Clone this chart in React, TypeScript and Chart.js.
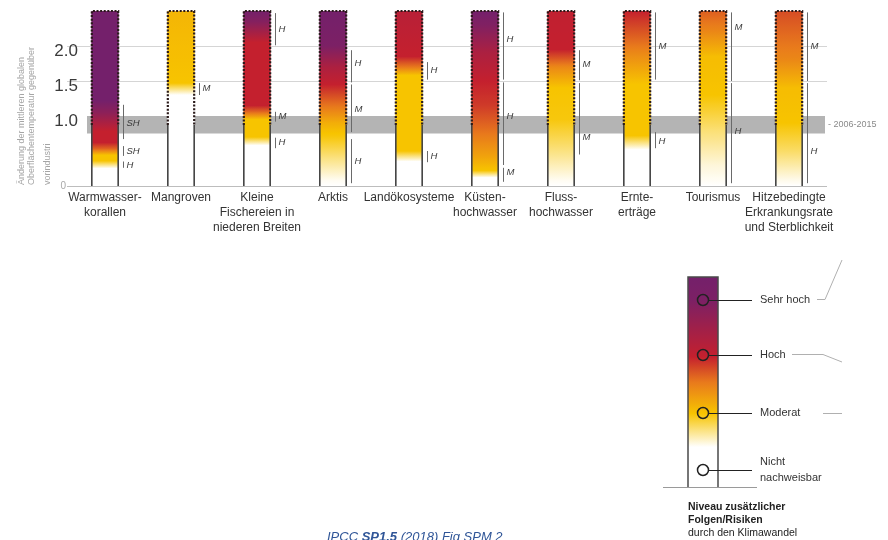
import React, { useEffect, useRef } from 'react';
import { Chart, registerables } from 'chart.js';

Chart.register(...registerables);

// ---------- data ----------
const categories: string[][] = [
  ['Warmwasser-', 'korallen'],
  ['Mangroven'],
  ['Kleine', 'Fischereien in', 'niederen Breiten'],
  ['Arktis'],
  ['Landökosysteme'],
  ['Küsten-', 'hochwasser'],
  ['Fluss-', 'hochwasser'],
  ['Ernte-', 'erträge'],
  ['Tourismus'],
  ['Hitzebedingte', 'Erkrankungsrate', 'und Sterblichkeit'],
];

// upper end of every bar (°C of warming)
const barTop = [2.5, 2.5, 2.5, 2.5, 2.5, 2.5, 2.5, 2.5, 2.5, 2.5];

const yTicks = [0, 1.0, 1.5, 2.0];
const yTickLabels = ['0', '1.0', '1.5', '2.0'];
const yTitleLines = ['Änderung der mittleren globalen', 'Oberflächentemperatur gegenüber', 'vorindustri'];

// observed warming band 2006-2015
const observedBand = [0.75, 1.0];
const observedMean = 0.87;
const bandLabel = '- 2006-2015';

// risk level: 0 = nicht nachweisbar, 1 = moderat, 1.5 = orange, 2 = hoch, 3 = sehr hoch
const riskPalette: [number, string][] = [
  [0, '#FFFFFF'],
  [1, '#F7C400'],
  [1.5, '#E8791C'],
  [2, '#C4202E'],
  [3, '#74206B'],
];

// [temperature °C, risk level] per category
const riskProfiles: [number, number][][] = [
  [[0, 0], [0.25, 0], [0.36, 1], [0.44, 1], [0.53, 1.6], [0.62, 2], [0.78, 2], [1.05, 2.7], [1.22, 3], [2.5, 3]],
  [[0, 0], [1.3, 0], [1.47, 1], [2.5, 1.1]],
  [[0, 0], [0.58, 0], [0.7, 1], [0.95, 1], [1.06, 1.6], [1.15, 2], [2.05, 2], [2.35, 2.8], [2.5, 3]],
  [[0, 0], [0.08, 0.05], [0.4, 0.5], [0.7, 0.95], [0.9, 1.15], [1.2, 1.6], [1.45, 2], [1.7, 2.3], [2.0, 2.9], [2.5, 3]],
  [[0, 0], [0.35, 0], [0.5, 1], [1.58, 1], [1.7, 1.5], [1.85, 2], [2.5, 2.15]],
  [[0, 0], [0.12, 0], [0.22, 1], [0.4, 1.2], [0.8, 1.55], [1.15, 1.85], [1.5, 2], [1.9, 2.3], [2.3, 2.85], [2.5, 3]],
  [[0, 0], [0.08, 0.05], [0.5, 0.5], [0.95, 0.95], [1.4, 1], [1.7, 1.4], [1.95, 2], [2.5, 2.05]],
  [[0, 0], [0.52, 0], [0.72, 1], [1.45, 1], [1.9, 1.4], [2.3, 1.8], [2.5, 2]],
  [[0, 0], [0.3, 0.15], [0.8, 0.55], [1.3, 1], [1.85, 1.05], [2.2, 1.4], [2.5, 1.65]],
  [[0, 0], [0.1, 0.1], [0.5, 0.6], [0.9, 1], [1.4, 1.05], [1.8, 1.4], [2.2, 1.6], [2.5, 1.75]],
];

// confidence brackets: [category index, from °C, to °C, label position °C, label]
const confidenceBrackets: [number, number, number, number, string][] = [
  [0, 1.16, 0.67, 0.89, 'SH'], [0, 0.57, 0.43, 0.5, 'SH'], [0, 0.35, 0.26, 0.3, 'H'],
  [1, 1.47, 1.3, 1.39, 'M'],
  [2, 2.47, 2.01, 2.24, 'H'], [2, 1.06, 0.92, 0.99, 'M'], [2, 0.69, 0.54, 0.62, 'H'],
  [3, 1.94, 1.48, 1.75, 'H'], [3, 1.45, 0.77, 1.09, 'M'], [3, 0.67, 0.04, 0.35, 'H'],
  [4, 1.77, 1.52, 1.65, 'H'], [4, 0.5, 0.34, 0.42, 'H'],
  [5, 2.48, 1.52, 2.1, 'H'], [5, 1.48, 0.3, 1.0, 'H'], [5, 0.26, 0.06, 0.2, 'M'],
  [6, 1.94, 1.51, 1.74, 'M'], [6, 1.47, 0.45, 0.7, 'M'],
  [7, 2.48, 1.52, 2.0, 'M'], [7, 0.77, 0.54, 0.64, 'H'],
  [8, 2.48, 1.5, 2.26, 'M'], [8, 1.47, 0.04, 0.78, 'H'],
  [9, 2.48, 1.5, 1.99, 'M'], [9, 1.47, 0.04, 0.49, 'H'],
];

// legend
const legendLevels: string[][] = [['Sehr hoch'], ['Hoch'], ['Moderat'], ['Nicht', 'nachweisbar']];
const legendTitle = ['Niveau zusätzlicher', 'Folgen/Risiken', 'durch den Klimawandel'];
const captionParts = ['IPCC ', 'SP1.5', ' (2018) Fig SPM 2'];

// ---------- helpers ----------
function hexToRgb(h: string) {
  const n = parseInt(h.slice(1), 16);
  return [(n >> 16) & 255, (n >> 8) & 255, n & 255];
}
function riskColor(r: number) {
  const p = riskPalette;
  if (r <= p[0][0]) return p[0][1];
  if (r >= p[p.length - 1][0]) return p[p.length - 1][1];
  for (let i = 0; i < p.length - 1; i++) {
    const [a, ca] = p[i];
    const [b, cb] = p[i + 1];
    if (r >= a && r <= b) {
      const t = (r - a) / (b - a);
      const A = hexToRgb(ca), B = hexToRgb(cb);
      const c = A.map((v, k) => Math.round(v + (B[k] - v) * t));
      return `rgb(${c[0]},${c[1]},${c[2]})`;
    }
  }
  return p[0][1];
}
function addProfileStops(g: CanvasGradient, profile: [number, number][], maxT: number) {
  for (let i = 0; i < profile.length - 1; i++) {
    const [t0, r0] = profile[i];
    const [t1, r1] = profile[i + 1];
    const steps = 8;
    for (let s = 0; s <= steps; s++) {
      const f = s / steps;
      const t = t0 + (t1 - t0) * f;
      const r = r0 + (r1 - r0) * f;
      g.addColorStop(Math.min(1, Math.max(0, t / maxT)), riskColor(r));
    }
  }
}

const FONT = "'Liberation Sans', Arial, sans-serif";

const decorPlugin = {
  id: 'decor',
  beforeDatasetsDraw(chart: any) {
    const { ctx, chartArea, scales } = chart;
    const y = scales.y;
    ctx.save();
    ctx.fillStyle = '#B4B4B4';
    const yA = y.getPixelForValue(observedBand[1]);
    const yB = y.getPixelForValue(observedBand[0]);
    ctx.fillRect(chartArea.left + 20, yA, chartArea.right - 2 - (chartArea.left + 20), yB - yA);
    ctx.restore();
  },
  afterDatasetsDraw(chart: any) {
    const { ctx, scales } = chart;
    const y = scales.y;
    const meta = chart.getDatasetMeta(0);
    ctx.save();
    meta.data.forEach((bar: any, i: number) => {
      const l = bar.x - bar.width / 2 + 0.5;
      const r = bar.x + bar.width / 2 - 0.5;
      const yTop = y.getPixelForValue(barTop[i]);
      const yObs = y.getPixelForValue(observedMean);
      const y0 = y.getPixelForValue(0);
      // dotted projection outline
      ctx.setLineDash([2, 1.6]);
      ctx.lineWidth = 2.2;
      ctx.strokeStyle = '#2a1a1a';
      ctx.beginPath();
      ctx.moveTo(l, yObs);
      ctx.lineTo(l, yTop);
      ctx.lineTo(r, yTop);
      ctx.lineTo(r, yObs);
      ctx.stroke();
      // solid observed outline
      ctx.setLineDash([]);
      ctx.lineWidth = 1.6;
      ctx.strokeStyle = '#444';
      ctx.beginPath();
      ctx.moveTo(l, yObs);
      ctx.lineTo(l, y0);
      ctx.moveTo(r, yObs);
      ctx.lineTo(r, y0);
      ctx.stroke();
    });
    // confidence brackets
    ctx.setLineDash([]);
    confidenceBrackets.forEach(([ci, from, to, at, label]) => {
      const bar = meta.data[ci];
      const lx = Math.round(bar.x + bar.width / 2 + 4) + 0.5;
      ctx.strokeStyle = '#6a6a6a';
      ctx.lineWidth = 1;
      ctx.beginPath();
      ctx.moveTo(lx, y.getPixelForValue(from));
      ctx.lineTo(lx, y.getPixelForValue(to));
      ctx.stroke();
      ctx.fillStyle = '#3a3a3a';
      ctx.font = `italic 9.5px ${FONT}`;
      ctx.textAlign = 'left';
      ctx.textBaseline = 'middle';
      ctx.fillText(label, lx + 3, y.getPixelForValue(at));
    });
    ctx.restore();
  },
  afterDraw(chart: any) {
    const { ctx, chartArea, scales } = chart;
    const y = scales.y;
    ctx.save();
    // y tick labels
    yTicks.forEach((v, k) => {
      ctx.textAlign = 'right';
      ctx.textBaseline = 'middle';
      if (v === 0) {
        ctx.fillStyle = '#A8A8A8';
        ctx.font = `10px ${FONT}`;
        ctx.fillText(yTickLabels[k], chartArea.left - 1, y.getPixelForValue(v));
      } else {
        ctx.fillStyle = '#3a3a3a';
        ctx.font = `17px ${FONT}`;
        ctx.fillText(yTickLabels[k], chartArea.left + 11, y.getPixelForValue(v) + 5);
      }
    });
    // y title
    ctx.fillStyle = '#A5A5A5';
    ctx.font = `9px ${FONT}`;
    ctx.textAlign = 'left';
    ctx.textBaseline = 'middle';
    const titleX = [22, 32, 48];
    yTitleLines.forEach((line, k) => {
      ctx.save();
      ctx.translate(titleX[k], y.getPixelForValue(0) - 1);
      ctx.rotate(-Math.PI / 2);
      ctx.fillText(line, 0, 0);
      ctx.restore();
    });
    // band label
    ctx.fillStyle = '#8a8a8a';
    ctx.font = `9px ${FONT}`;
    ctx.textAlign = 'left';
    ctx.textBaseline = 'middle';
    ctx.fillText(bandLabel, chartArea.right + 1, (y.getPixelForValue(observedBand[0]) + y.getPixelForValue(observedBand[1])) / 2);

    // ---- legend ----
    const lx = 688, lw = 30, ly = 277, lh = 210;
    const g = ctx.createLinearGradient(0, ly + lh, 0, ly);
    const legendProfile: [number, number][] = [[0, 0], [0.19, 0], [0.35, 1], [0.5, 1.5], [0.62, 2], [0.89, 2.9], [1, 3]];
    addProfileStops(g, legendProfile, 1);
    ctx.fillStyle = g;
    ctx.fillRect(lx, ly, lw, lh);
    ctx.strokeStyle = '#4a4a4a';
    ctx.lineWidth = 1.5;
    ctx.beginPath();
    ctx.moveTo(lx, ly + lh);
    ctx.lineTo(lx, ly);
    ctx.lineTo(lx + lw, ly);
    ctx.lineTo(lx + lw, ly + lh);
    ctx.stroke();
    ctx.strokeStyle = '#9a9a9a';
    ctx.lineWidth = 1;
    ctx.beginPath();
    ctx.moveTo(663, ly + lh + 0.5);
    ctx.lineTo(757, ly + lh + 0.5);
    ctx.stroke();
    const cy = [300, 355, 413, 470];
    legendLevels.forEach((lines, k) => {
      ctx.strokeStyle = '#222';
      ctx.lineWidth = 1.5;
      ctx.beginPath();
      ctx.arc(703, cy[k], 5.5, 0, Math.PI * 2);
      ctx.stroke();
      ctx.lineWidth = 1;
      ctx.beginPath();
      ctx.moveTo(708.5, cy[k] + 0.5);
      ctx.lineTo(752, cy[k] + 0.5);
      ctx.stroke();
      ctx.fillStyle = '#333';
      ctx.font = `11px ${FONT}`;
      ctx.textAlign = 'left';
      ctx.textBaseline = 'middle';
      if (lines.length === 1) ctx.fillText(lines[0], 760, cy[k]);
      else {
        ctx.fillText(lines[0], 760, cy[k] - 8);
        ctx.fillText(lines[1], 760, cy[k] + 8);
      }
    });
    // leader lines
    ctx.strokeStyle = '#b0b0b0';
    ctx.lineWidth = 1;
    ctx.beginPath();
    ctx.moveTo(817, 299.5); ctx.lineTo(825, 299.5); ctx.lineTo(842, 260);
    ctx.moveTo(792, 354.5); ctx.lineTo(823, 354.5); ctx.lineTo(842, 362);
    ctx.moveTo(823, 413.5); ctx.lineTo(842, 413.5);
    ctx.stroke();
    // legend title
    ctx.fillStyle = '#222';
    ctx.textBaseline = 'middle';
    ctx.textAlign = 'left';
    ctx.font = `bold 10.5px ${FONT}`;
    ctx.fillText(legendTitle[0], 688, 507);
    ctx.fillText(legendTitle[1], 688, 520);
    ctx.font = `10.5px ${FONT}`;
    ctx.fillText(legendTitle[2], 688, 533);

    // caption
    ctx.fillStyle = '#2F5597';
    ctx.textBaseline = 'alphabetic';
    let cx = 327;
    captionParts.forEach((part, k) => {
      ctx.font = `italic ${k === 1 ? 'bold ' : ''}13px ${FONT}`;
      ctx.fillText(part, cx, 541);
      cx += ctx.measureText(part).width;
    });
    ctx.restore();
  },
};

export default function App() {
  const ref = useRef<HTMLCanvasElement>(null);
  useEffect(() => {
    if (!ref.current) return;
    Chart.defaults.font.family = FONT;
    const chart = new Chart(ref.current, {
      type: 'bar',
      data: {
        labels: categories as any,
        datasets: [
          {
            data: barTop,
            borderWidth: 0,
            barPercentage: 0.36,
            categoryPercentage: 1,
            backgroundColor: (c: any) => {
              if (c.type !== 'data') return '#fff';
              const chart = c.chart;
              const y = chart.scales.y;
              if (!y) return '#fff';
              const i = c.dataIndex;
              const y0 = y.getPixelForValue(0);
              const y1 = y.getPixelForValue(barTop[i]);
              if (!isFinite(y0) || !isFinite(y1) || y0 === y1) return '#fff';
              const g = chart.ctx.createLinearGradient(0, y0, 0, y1);
              addProfileStops(g, riskProfiles[i], barTop[i]);
              return g;
            },
          },
        ],
      },
      options: {
        animation: false,
        responsive: false,
        layout: { padding: { left: 0, right: 61, top: 4, bottom: 0 } },
        plugins: { legend: { display: false }, tooltip: { enabled: false } },
        scales: {
          x: {
            grid: { display: false, drawTicks: false },
            border: { display: false },
            ticks: {
              autoSkip: false,
              maxRotation: 0,
              minRotation: 0,
              padding: 4,
              color: '#333',
              font: { size: 12, lineHeight: 1.25 },
            },
            afterFit: (s: any) => {
              s.height = 354;
            },
          },
          y: {
            min: 0,
            max: 2.6,
            afterBuildTicks: (s: any) => {
              s.ticks = yTicks.map((v) => ({ value: v }));
            },
            afterFit: (s: any) => {
              s.width = 67;
            },
            grid: {
              drawTicks: false,
              color: (c: any) => {
                const v = c.tick ? c.tick.value : -1;
                if (v === 0) return '#BDBDBD';
                if (v === 1) return 'rgba(0,0,0,0)';
                return '#D5D5D5';
              },
            },
            border: { display: false },
            ticks: { display: false },
          },
        },
      },
      plugins: [decorPlugin],
    } as any);
    return () => chart.destroy();
  }, []);
  return (
    <div style={{ position: 'fixed', left: 0, top: 0, width: 888, height: 540, background: '#fff' }}>
      <canvas ref={ref} width={888} height={540} style={{ display: 'block' }} />
    </div>
  );
}
